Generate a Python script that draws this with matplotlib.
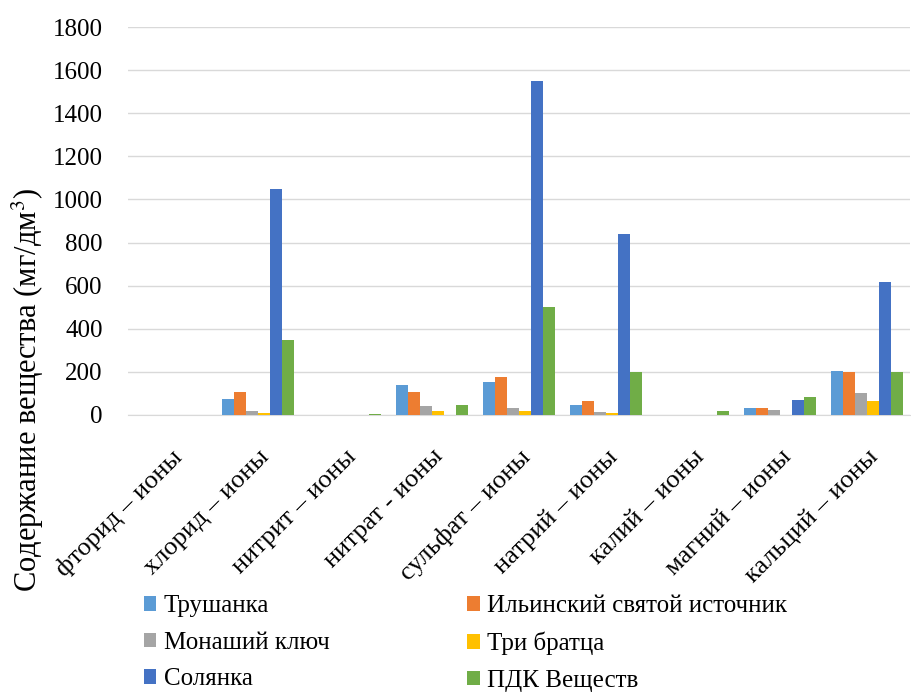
import numpy as np
import matplotlib.pyplot as plt

plt.rcParams['font.family'] = ['Liberation Serif', 'DejaVu Serif']
plt.rcParams['mathtext.fontset'] = 'stix'

ions = ['фторид – ионы', 'хлорид – ионы', 'нитрит – ионы', 'нитрат - ионы',
        'сульфат – ионы', 'натрий – ионы', 'калий – ионы', 'магний – ионы',
        'кальций – ионы']

trushanka = [0.3, 72, 0, 141, 155, 46, 0, 32, 204]
ilinsky = [0.3, 107, 0, 107, 175, 63, 0, 32, 198]
monashiy = [0.2, 18, 0, 40, 33, 12, 0, 22, 101]
tri_bratca = [0.2, 7, 0, 18, 16, 7, 0, 0, 66]
solyanka = [0.5, 1050, 0, 0, 1550, 840, 0, 68, 615]
pdk = [1.5, 350, 3.3, 45, 500, 200, 18, 82, 200]

series = [
    ('Трушанка', trushanka, '#5B9BD5'),
    ('Ильинский святой источник', ilinsky, '#ED7D31'),
    ('Монаший ключ', monashiy, '#A5A5A5'),
    ('Три братца', tri_bratca, '#FFC000'),
    ('Солянка', solyanka, '#4472C4'),
    ('ПДК Веществ', pdk, '#70AD47'),
]

fig = plt.figure(figsize=(9.12, 6.95), dpi=100)
ax = fig.add_axes([0.14, 0.403, 0.858, 0.558])

x = np.arange(len(ions))
w = 0.138
bars = []
for i, (name, vals, col) in enumerate(series):
    bars.append(ax.bar(x + (i - 2.5) * w, vals, w, color=col, label=name, zorder=3))

ax.set_ylim(0, 1800)
ax.set_yticks(np.arange(0, 1801, 200))
ax.set_xlim(-0.5, len(ions) - 0.5)
ax.grid(axis='y', color='#D9D9D9', linewidth=1, zorder=0)
for s in ['top', 'right', 'left']:
    ax.spines[s].set_visible(False)
ax.spines['bottom'].set_color('#D9D9D9')
ax.tick_params(axis='y', length=0, labelsize=18, pad=18)
ax.tick_params(axis='x', length=0, pad=22)
ax.set_xticks(x)
ax.set_xticklabels(ions, rotation=45, ha='right', va='top',
                   rotation_mode='anchor', fontsize=19)
ax.set_ylabel('Содержание вещества (мг/дм$^3$)', fontsize=22)
ax.yaxis.set_label_coords(-0.104, 0.064)

# row-wise legend order
order = [0, 2, 4, 1, 3, 5]
fig.legend([bars[i] for i in order], [series[i][0] for i in order],
           loc='lower left', bbox_to_anchor=(0.133, -0.028), ncol=2,
           fontsize=18, frameon=False, handlelength=0.5, handleheight=0.5,
           handletextpad=0.3, columnspacing=5.5, labelspacing=0.58)

fig.savefig('out.png', dpi=100)
